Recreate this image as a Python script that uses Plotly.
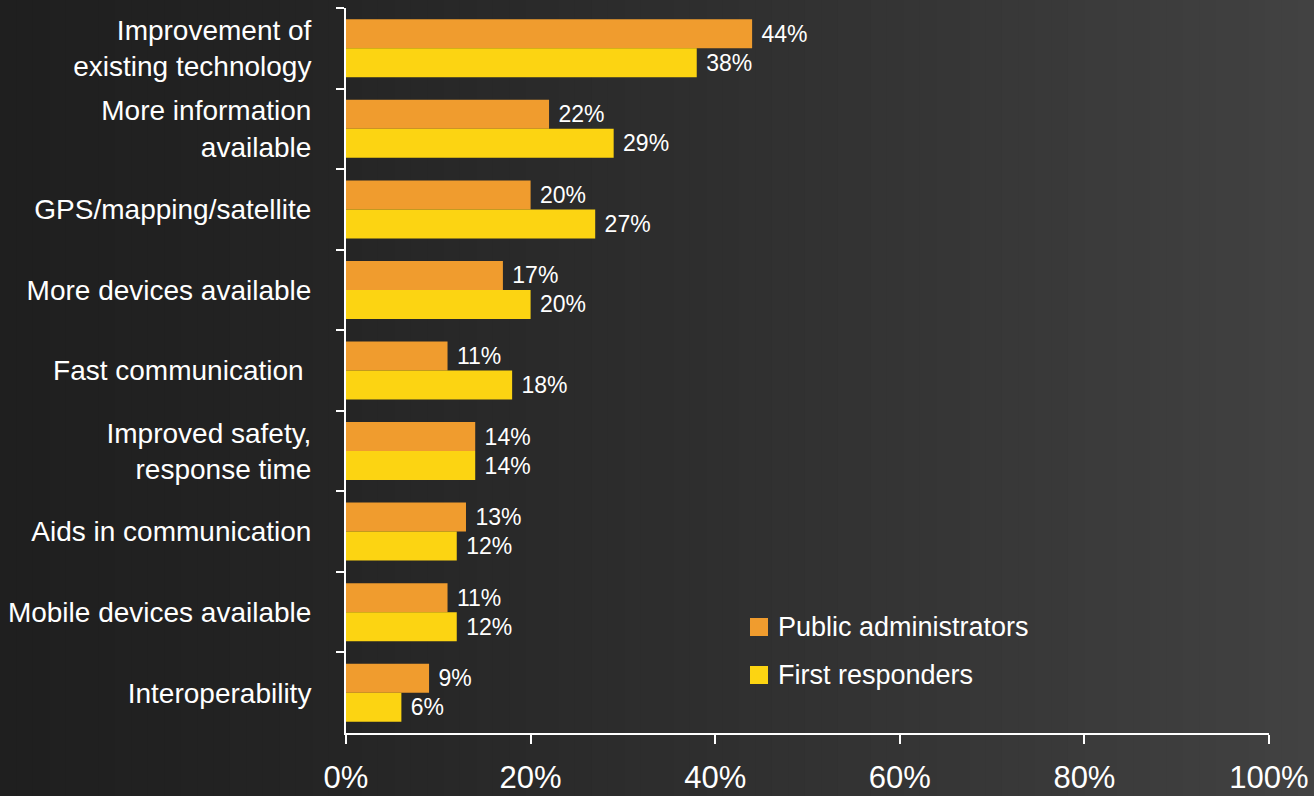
import plotly.graph_objects as go

categories = [
    "Improvement of<br>existing technology",
    "More information<br>available",
    "GPS/mapping/satellite",
    "More devices available",
    "Fast communication ",
    "Improved safety,<br>response time",
    "Aids in communication",
    "Mobile devices available",
    "Interoperability",
]
public_admins = [44, 22, 20, 17, 11, 14, 13, 11, 9]
first_responders = [38, 29, 27, 20, 18, 14, 12, 12, 6]
series_names = ["Public administrators", "First responders"]
x_ticks = [0, 20, 40, 60, 80, 100]
x_tick_labels = ["0%", "20%", "40%", "60%", "80%", "100%"]

ORANGE = "#F09C2E"
YELLOW = "#FCD412"
FONT = "Liberation Sans, Arial, sans-serif"

W, H = 1314, 796
ML, MR, MT, MB = 346, 45, 8, 63
pw = W - ML - MR
ph = H - MT - MB

def labels(vals):
    return ["\u00a0" + f"{v}%" for v in vals]

fig = go.Figure()
for name, vals, col in [(series_names[0], public_admins, ORANGE),
                        (series_names[1], first_responders, YELLOW)]:
    fig.add_trace(go.Bar(
        y=categories, x=vals, orientation="h", name=name,
        marker=dict(color=col, line=dict(width=0)),
        text=labels(vals), textposition="outside",
        textfont=dict(color="white", size=23, family=FONT),
        cliponaxis=False, hoverinfo="x+y", showlegend=False,
    ))

# horizontal gradient background
n = 80
shapes = []
for i in range(n):
    p0 = W * i / n
    p1 = W * (i + 1) / n + 1
    t = (i + 0.5) / n
    v = int(round(31 + 35 * t ** 1.3))
    shapes.append(dict(
        type="rect", xref="paper", yref="paper",
        x0=(p0 - ML) / pw, x1=(p1 - ML) / pw,
        y0=-MB / ph - 0.05, y1=1 + MT / ph + 0.05,
        fillcolor=f"rgb({v},{v},{v})", line=dict(width=0), layer="below",
    ))

# legend drawn manually (larger square swatches)
annotations = []
for k, (name, col) in enumerate(zip(series_names, [ORANGE, YELLOW])):
    cy = 627 + 48 * k
    shapes.append(dict(
        type="rect", xref="paper", yref="paper",
        x0=(750 - ML) / pw, x1=(768 - ML) / pw,
        y0=(733 - (cy + 9)) / ph, y1=(733 - (cy - 9)) / ph,
        fillcolor=col, line=dict(width=0),
    ))
    annotations.append(dict(
        xref="paper", yref="paper", x=(776 - ML) / pw, y=(733 - cy) / ph,
        xanchor="left", yanchor="middle", showarrow=False, text=name,
        font=dict(size=27, color="white", family=FONT),
    ))

fig.update_layout(
    width=W, height=H,
    margin=dict(l=ML, r=MR, t=MT, b=MB, autoexpand=False),
    paper_bgcolor="#262626",
    plot_bgcolor="rgba(0,0,0,0)",
    shapes=shapes,
    annotations=annotations,
    barmode="group",
    bargap=0.28,
    bargroupgap=0,
    font=dict(family=FONT, color="white"),
    showlegend=False,
    xaxis=dict(
        range=[0, 100], tickvals=x_ticks, ticktext=x_tick_labels,
        showgrid=False, zeroline=False,
        showline=True, linecolor="white", linewidth=2,
        ticks="outside", ticklen=9, tickwidth=2, tickcolor="white",
        tickfont=dict(size=31, color="white", family=FONT),
        ticklabelstandoff=7, automargin=False,
    ),
    yaxis=dict(
        autorange="reversed", type="category",
        showgrid=False, zeroline=False,
        showline=True, linecolor="white", linewidth=2,
        ticks="outside", ticklen=8, tickwidth=2, tickcolor="white",
        tickson="boundaries",
        tickfont=dict(size=28, color="white", family=FONT),
        ticklabelstandoff=27, automargin=False,
    ),
)

fig.write_html(
    "out.html",
    config={"displayModeBar": False},
    post_script="document.body.style.margin='0';document.body.style.background='#262626';",
)
